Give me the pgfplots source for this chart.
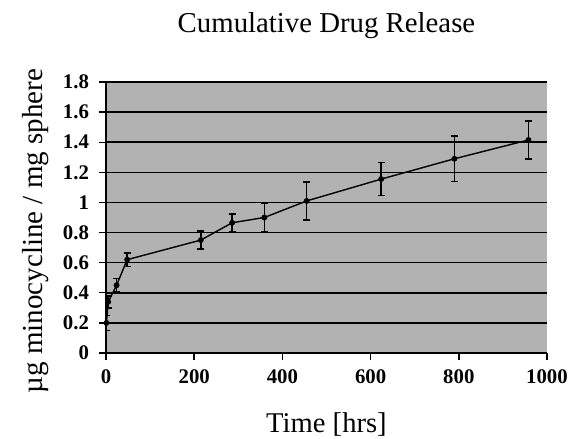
\documentclass[border=0pt]{standalone}
\usepackage{pgfplots}
\pgfplotsset{compat=1.18}
\usepackage{fontspec}
\setmainfont{Liberation Serif}

\pgfplotstableread{
t     rel   err
1     0.20  0.05
5     0.34  0.04
24    0.45  0.045
48    0.62  0.045
215   0.75  0.06
286   0.865 0.06
359   0.90  0.095
455   1.01  0.125
624   1.155 0.11
790   1.29  0.15
958   1.415 0.125
}\releasedata

\begin{document}
\begin{tikzpicture}
\begin{axis}[
    at={(0,0)}, anchor=south west,
    scale only axis,
    width=220.5pt, height=135.5pt,
    xmin=0, xmax=1000,
    ymin=0, ymax=1.8,
    xtick={0,200,...,1000},
    ytick={0,0.2,...,1.8},
    axis lines=left,
    axis line style={-, black, line width=0.7pt},
    axis background/.style={fill=gray!60},
    ymajorgrids,
    major grid style={black, line width=0.8pt},
    tick align=outside,
    major tick length=3.5pt,
    tick style={black, line width=0.7pt},
    /pgf/number format/assume math mode=true,
    /pgf/number format/1000 sep={},
    ticklabel style={font=\fontsize{10.4}{12}\selectfont\bfseries},
    yticklabel style={xshift=-1.5pt},
    xticklabel style={yshift=-1.5pt},
    title={Cumulative Drug Release},
    title style={at={(axis description cs:0.5,1)}, anchor=base, yshift=18.5pt,
                 font=\fontsize{14.4}{16}\selectfont},
    xlabel={Time [hrs]},
    xlabel style={at={(axis description cs:0.5,0)}, anchor=base, yshift=-39.5pt,
                  font=\fontsize{14.3}{16}\selectfont},
    ylabel={µg minocycline / mg sphere},
    ylabel style={at={(axis description cs:-0.145,0.45)}, anchor=base,
                  font=\fontsize{14.5}{16}\selectfont},
]
\addplot+[black, line width=0.7pt, mark=*, mark size=1.1pt,
          mark options={fill=black},
          error bars/.cd, y dir=both, y explicit,
          error bar style={black, line width=0.8pt},
          error mark options={rotate=90, mark size=1.8pt, line width=0.8pt}]
    table[x=t, y=rel, y error=err] {\releasedata};
\end{axis}
\pgfresetboundingbox
\useasboundingbox (-53pt,-43pt) rectangle (231pt,176.5pt);
\end{tikzpicture}
\end{document}
